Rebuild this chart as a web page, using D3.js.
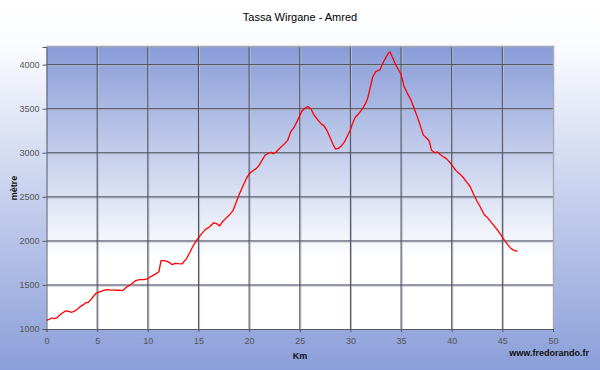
<!DOCTYPE html>
<html>
<head>
<meta charset="utf-8">
<script src="https://cdn.jsdelivr.net/npm/d3@7"></script>
<style>
  body { margin: 0; padding: 0; }
  svg { display: block; font-family: Arial, "Liberation Sans", sans-serif; }
</style>
</head>
<body>
<div id="graph"></div>
<script>
// profile data: distance (km) and altitude (m)
var km = [0, 0.3, 0.5, 0.8, 1.0, 1.3, 1.6, 1.9, 2.2, 2.5, 2.8, 3.1, 3.4, 3.7, 3.9, 4.1, 4.4, 4.7, 4.9,
  5.3, 5.7, 6.0, 6.4, 6.8, 7.2, 7.5, 7.8, 8.1, 8.4, 8.8, 9.2, 9.6, 10.0, 10.3, 10.7, 11.1, 11.3, 11.6,
  11.9, 12.2, 12.4, 12.7, 13.0, 13.4, 13.8, 14.2, 14.5, 14.9, 15.3, 15.7, 16.1, 16.5, 16.8, 17.1, 17.4,
  17.7, 18.1, 18.4, 18.7, 19.0, 19.3, 19.7, 20.0, 20.3, 20.7, 21.0, 21.3, 21.6, 21.9, 22.2, 22.4, 22.6,
  22.8, 23.1, 23.4, 23.8, 24.1, 24.5, 24.8, 25.2, 25.5, 25.8, 26.1, 26.4, 26.8, 27.1, 27.4, 27.7, 28.0,
  28.3, 28.55, 28.8, 29.05, 29.4, 29.7, 30.0, 30.2, 30.5, 30.8, 31.2, 31.5, 31.7, 32.0, 32.2, 32.5, 32.9,
  33.1, 33.4, 33.7, 33.9, 34.2, 34.5, 34.8, 35.0, 35.3, 35.6, 36.0, 36.3, 36.6, 36.9, 37.2, 37.5, 37.8,
  38.0, 38.2, 38.4, 38.6, 38.8, 39.1, 39.5, 39.9, 40.4, 40.8, 41.1, 41.5, 41.8, 42.2, 42.5, 42.8, 43.2,
  43.6, 43.9, 44.2, 44.6, 44.9, 45.2, 45.5, 45.8, 46.1, 46.5];
var metre = [1100, 1110, 1125, 1118, 1125, 1155, 1185, 1205, 1200, 1190, 1205, 1230, 1260, 1280, 1300, 1300, 1335, 1380, 1405,
  1425, 1440, 1448, 1442, 1440, 1440, 1435, 1465, 1490, 1510, 1550, 1560, 1560, 1570, 1595, 1620, 1650, 1775, 1775,
  1768, 1750, 1730, 1745, 1742, 1740, 1795, 1880, 1950, 2020, 2080, 2130, 2160, 2205, 2195, 2170, 2220,
  2255, 2300, 2340, 2430, 2520, 2600, 2700, 2760, 2790, 2820, 2860, 2920, 2975, 2995, 3005, 2990, 3000,
  3025, 3060, 3090, 3140, 3235, 3300, 3370, 3470, 3505, 3525, 3500, 3430, 3370, 3330, 3305, 3250, 3170,
  3090, 3040, 3050, 3070, 3120, 3190, 3260, 3330, 3405, 3440, 3500, 3560, 3615, 3760, 3860, 3920, 3940,
  3990, 4060, 4120, 4145, 4070, 3990, 3930, 3890, 3750, 3680, 3595, 3500, 3410, 3310, 3200, 3170, 3130,
  3030, 3010, 3000, 3010, 2985, 2960, 2930, 2880, 2800, 2760, 2725, 2665, 2620, 2520, 2450, 2390, 2300,
  2255, 2210, 2170, 2110, 2060, 2010, 1960, 1920, 1895, 1880];
var xTicks = [0, 5, 10, 15, 20, 25, 30, 35, 40, 45, 50];
var yTicks = [1000, 1500, 2000, 2500, 3000, 3500, 4000];

var width = 600;
var height = 370;
var margin = { top: 47, bottom: 41, left: 46.5, right: 47 };

var svg = d3.select("#graph").append("svg")
  .attr("width", width)
  .attr("height", height);

var defs = svg.append("defs");
var outerGrad = defs.append("linearGradient").attr("id", "outer")
  .attr("x1", 0).attr("y1", 0).attr("x2", 0).attr("y2", 1);
outerGrad.append("stop").attr("offset", 0).attr("stop-color", "#ffffff");
outerGrad.append("stop").attr("offset", 0.12).attr("stop-color", "#fbfcff");
outerGrad.append("stop").attr("offset", 1).attr("stop-color", "#8a9ed9");

var plotGrad = defs.append("linearGradient").attr("id", "plotbg")
  .attr("x1", 0).attr("y1", 0).attr("x2", 0).attr("y2", 1);
plotGrad.append("stop").attr("offset", 0).attr("stop-color", "#889cd8");
plotGrad.append("stop").attr("offset", 0.75).attr("stop-color", "#ffffff");
plotGrad.append("stop").attr("offset", 1).attr("stop-color", "#ffffff");

svg.append("rect")
  .attr("width", width).attr("height", height)
  .attr("fill", "url(#outer)");

var xScale = d3.scaleLinear().domain([0, 50]).range([margin.left, width - margin.right]);
var yScale = d3.scaleLinear().domain([1000, 4200]).range([height - margin.bottom, margin.top]);

var pw = xScale(50) - xScale(0);
var ph = yScale(1000) - yScale(4200);

// plot area
svg.append("rect")
  .attr("x", xScale(0)).attr("y", yScale(4200))
  .attr("width", pw).attr("height", ph)
  .attr("fill", "url(#plotbg)");

// grid lines (a dark line with a light shadow)
var grid = svg.append("g");
grid.selectAll(".vshadow").data(xTicks.slice(1, -1)).enter().append("line")
  .attr("x1", function (d) { return xScale(d) + 1; })
  .attr("x2", function (d) { return xScale(d) + 1; })
  .attr("y1", yScale(4200)).attr("y2", yScale(1000))
  .attr("stroke", "#b8bcc8").attr("stroke-width", 1.2);
grid.selectAll(".hshadow").data(yTicks.slice(1)).enter().append("line")
  .attr("x1", xScale(0)).attr("x2", xScale(50))
  .attr("y1", function (d) { return yScale(d) + 1; })
  .attr("y2", function (d) { return yScale(d) + 1; })
  .attr("stroke", "#b8bcc8").attr("stroke-width", 1.2);
grid.selectAll(".vgrid").data(xTicks.slice(1, -1)).enter().append("line")
  .attr("x1", function (d) { return xScale(d); })
  .attr("x2", function (d) { return xScale(d); })
  .attr("y1", yScale(4200)).attr("y2", yScale(1000))
  .attr("stroke", "#4a4f60").attr("stroke-width", 1);
grid.selectAll(".hgrid").data(yTicks.slice(1)).enter().append("line")
  .attr("x1", xScale(0)).attr("x2", xScale(50))
  .attr("y1", function (d) { return yScale(d); })
  .attr("y2", function (d) { return yScale(d); })
  .attr("stroke", "#4a4f60").attr("stroke-width", 1);

// frame
svg.append("line")
  .attr("x1", xScale(0)).attr("x2", xScale(50) + 1.5)
  .attr("y1", yScale(4200) - 0.5).attr("y2", yScale(4200) - 0.5)
  .attr("stroke", "#a8a8b0").attr("stroke-width", 1.5);
svg.append("line")
  .attr("x1", xScale(50) + 0.5).attr("x2", xScale(50) + 0.5)
  .attr("y1", yScale(4200)).attr("y2", yScale(1000))
  .attr("stroke", "#a8acb8").attr("stroke-width", 1.5);

// axes
var yAxis = d3.axisLeft(yScale).tickValues(yTicks).tickFormat(d3.format("d")).tickSize(4).tickPadding(3);
var xAxis = d3.axisBottom(xScale).tickValues(xTicks).tickFormat(d3.format("d")).tickSize(3).tickPadding(6);

var gy = svg.append("g")
  .attr("transform", "translate(" + xScale(0) + ",0)")
  .call(yAxis);
var gx = svg.append("g")
  .attr("transform", "translate(0," + yScale(1000) + ")")
  .call(xAxis);

[gx, gy].forEach(function (g) {
  g.select(".domain").attr("stroke", "#555a66");
  g.selectAll(".tick line").attr("stroke", "#555a66");
  g.selectAll(".tick text")
    .attr("fill", "#555")
    .attr("font-size", "9px")
    .attr("font-family", "Arial, 'Liberation Sans', sans-serif");
});

// profile line
var line = d3.line()
  .x(function (d, i) { return xScale(km[i]); })
  .y(function (d) { return yScale(d); });

svg.append("path")
  .datum(metre)
  .attr("fill", "none")
  .attr("stroke", "#ff0000")
  .attr("stroke-width", 1.3)
  .attr("stroke-linejoin", "round")
  .attr("d", line);

// texts
svg.append("text")
  .attr("x", 300).attr("y", 21)
  .attr("text-anchor", "middle")
  .attr("font-size", "11px")
  .attr("fill", "#000")
  .text("Tassa Wirgane - Amred");

svg.append("text")
  .attr("transform", "translate(17,188) rotate(-90)")
  .attr("text-anchor", "middle")
  .attr("font-size", "9px")
  .attr("font-weight", "bold")
  .attr("fill", "#111")
  .text("mètre");

svg.append("text")
  .attr("x", 300).attr("y", 359)
  .attr("text-anchor", "middle")
  .attr("font-size", "9px")
  .attr("font-weight", "bold")
  .attr("fill", "#111")
  .text("Km");

svg.append("text")
  .attr("x", 589).attr("y", 356)
  .attr("text-anchor", "end")
  .attr("font-size", "9px")
  .attr("font-weight", "bold")
  .attr("fill", "#111")
  .text("www.fredorando.fr");
</script>
</body>
</html>
